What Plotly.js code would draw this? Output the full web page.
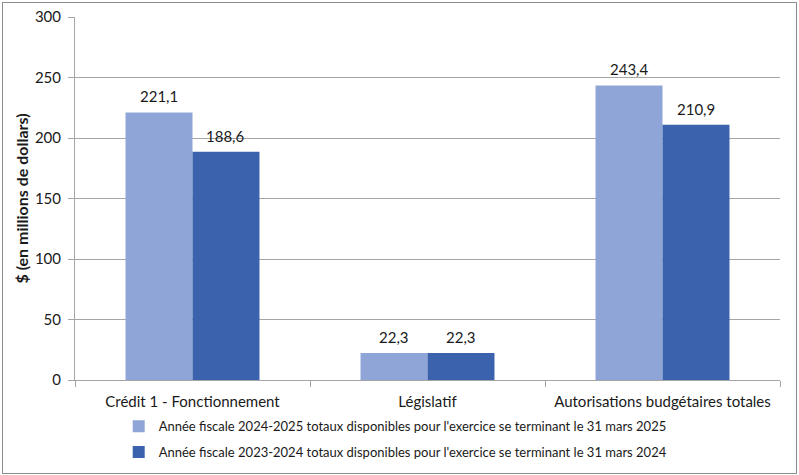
<!DOCTYPE html>
<html><head><meta charset="utf-8">
<script src="https://cdn.plot.ly/plotly-3.0.1.min.js"></script>
<style>
html,body{margin:0;padding:0;background:#fff;}
#wrap{position:absolute;left:2px;top:2px;width:793px;height:470px;border:1px solid #8c8c8c;}
#chart{position:absolute;left:0;top:0;width:799px;height:475px;}
</style></head>
<body>
<div id="chart"></div>
<div id="wrap"></div>
<script>
const categories = ["Crédit 1 - Fonctionnement", "Législatif", "Autorisations budgétaires totales"];
const series1Name = "Année fiscale 2024-2025 totaux disponibles pour l'exercice se terminant le 31 mars 2025";
const series2Name = "Année fiscale 2023-2024 totaux disponibles pour l'exercice se terminant le 31 mars 2024";
const series1Values = [221.1, 22.3, 243.4];
const series2Values = [188.6, 22.3, 210.9];
const yTicks = [0, 50, 100, 150, 200, 250, 300];

const font = "Lato, 'Open Sans', sans-serif";
const W = 799, H = 475, ML = 75, MR = 19, MT = 17, MB = 95;
const bargap = 0.43;
const catPx = (W - ML - MR) / categories.length;
const barPx = catPx * (1 - bargap) / 2;

function fmt(v){ return v.toFixed(1).replace('.', ','); }

const traces = [
  {type:'bar', name:series1Name, x:categories, y:series1Values, legendgroup:'a',
   marker:{color:'#8FA5D7'}, hoverinfo:'none'},
  {type:'bar', name:series2Name, x:categories, y:series2Values, legendgroup:'b',
   marker:{color:'#3B63AD'}, hoverinfo:'none'}
];
const annotations = [];
[[series1Values, -1], [series2Values, 1]].forEach(([vals, side]) => {
  vals.forEach((v, i) => {
    annotations.push({x:categories[i], y:v, xref:'x', yref:'y', text:fmt(v),
      showarrow:false, xanchor:'center', yanchor:'bottom', xshift:side*barPx/2, yshift:5,
      font:{size:15, color:'#1a1a1a', family:font}});
  });
});
const layout = {
  width:W, height:H,
  margin:{l:ML, r:MR, t:MT, b:MB, autoexpand:false},
  paper_bgcolor:'rgba(0,0,0,0)', plot_bgcolor:'#fff',
  font:{family:font, size:15, color:'#1a1a1a'},
  barmode:'group', bargap:bargap, bargroupgap:0,
  showlegend:true,
  annotations:annotations,
  legend:{orientation:'v', x:0.062, xanchor:'left', y:-0.086, yanchor:'top',
          font:{size:13, color:'#1a1a1a', family:font}, itemwidth:30, tracegroupgap:6,
          traceorder:'grouped'},
  xaxis:{type:'category', showline:true, linecolor:'#a6a6a6', linewidth:1, automargin:false,
         ticks:'outside', tickson:'boundaries', ticklen:6, tickcolor:'#a6a6a6',
         tickfont:{size:15}, showgrid:false, ticklabelstandoff:8},
  yaxis:{range:[0,300], tickvals:yTicks, ticks:'outside', ticklen:6, tickcolor:'#a6a6a6',
         showline:true, linecolor:'#a6a6a6', gridcolor:'#a6a6a6', zeroline:false, automargin:false,
         tickfont:{size:15}, ticklabelstandoff:4,
         title:{text:'<b>$ (en millions de dollars)</b>', font:{size:16}, standoff:2}}
};
Plotly.newPlot('chart', traces, layout, {displayModeBar:false, staticPlot:true});
</script>
</body></html>
